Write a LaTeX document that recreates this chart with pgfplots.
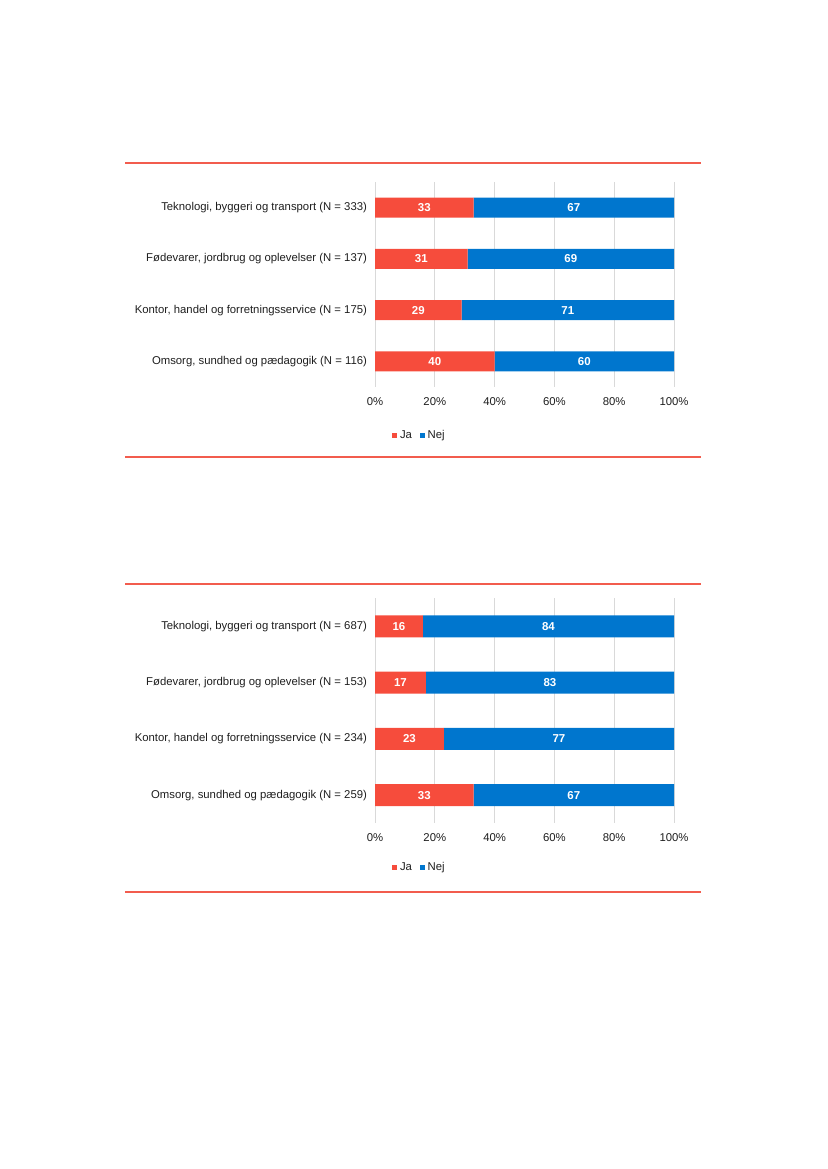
\documentclass[border=0pt]{standalone}
\usepackage{pgfplots}
\pgfplotsset{compat=1.18}
\usepackage{pgfplotstable}
\usepackage{fontspec}
\setmainfont{Liberation Sans}

\definecolor{jared}{RGB}{246,76,60}
\definecolor{nejblue}{RGB}{0,118,206}
\definecolor{rulered}{RGB}{242,92,78}
\definecolor{gridgray}{RGB}{217,217,217}
\definecolor{txt}{RGB}{30,30,30}

% andel i procent, Ja / Nej
\pgfplotstableread{
idx ja nej
0 33 67
1 31 69
2 29 71
3 40 60
}\tabA
\pgfplotstableread{
idx ja nej
0 16 84
1 17 83
2 23 77
3 33 67
}\tabB

\pgfplotsset{
  barchart/.style={
    xbar stacked,
    scale only axis,
    x=2.2425pt,
    xmin=0, xmax=100,
    ymin=-0.5, ymax=3.5,
    y dir=reverse,
    xtick={0,20,...,100},
    xticklabel={\pgfmathprintnumber{\tick}\%},
    ytick={0,1,2,3},
    axis line style={draw=none},
    major tick style={draw=none},
    xmajorgrids,
    grid style={gridgray, line width=0.75pt},
    tick label style={font=\fontsize{8.5}{10}\selectfont, text=txt},
    yticklabel style={xshift=-2.5pt},
    xticklabel style={yshift=-4.5pt},
    /pgf/number format/assume math mode=true,
    point meta=explicit,
    nodes near coords={\pgfmathprintnumber{\pgfplotspointmeta}},
    nodes near coords style={font=\bfseries\fontsize{8.6}{10}\selectfont, text=white,
      anchor=center},
    legend columns=2,
    legend style={draw=none, fill=none, font=\fontsize{8.5}{10}\selectfont, text=txt,
      anchor=center, /tikz/every even column/.append style={column sep=4pt}},
    legend image code/.code={\fill[##1] (0pt,-1.9pt) rectangle (3.8pt,1.9pt);},
  },
}

\begin{document}
\begin{tikzpicture}
\path[use as bounding box] (0pt,0pt) rectangle (620.25pt,-876.75pt);

\draw[rulered, line width=1.5pt] (93.75pt,-122.5pt) -- (525.75pt,-122.5pt);
\draw[rulered, line width=1.5pt] (93.75pt,-342.5pt) -- (525.75pt,-342.5pt);
\draw[rulered, line width=1.5pt] (93.75pt,-438pt) -- (525.75pt,-438pt);
\draw[rulered, line width=1.5pt] (93.75pt,-669pt) -- (525.75pt,-669pt);

\begin{axis}[barchart,
  at={(281.25pt,-136.5pt)}, anchor=north west,
  y=38.4375pt, bar width=15pt,
  yticklabels={{Teknologi, byggeri og transport (N = 333)},
    {Fødevarer, jordbrug og oplevelser (N = 137)},
    {Kontor, handel og forretningsservice (N = 175)},
    {Omsorg, sundhed og pædagogik (N = 116)}},
  legend style={at={(0.15,-0.235)}},
]
\addplot[fill=jared, draw=none] table[x=ja, y=idx, meta=ja] {\tabA};
\addplot[fill=nejblue, draw=none] table[x=nej, y=idx, meta=nej] {\tabA};
\legend{Ja, Nej}
\end{axis}

\begin{axis}[barchart,
  at={(281.25pt,-448.7pt)}, anchor=north west,
  y=42.1875pt, bar width=16.5pt,
  yticklabels={{Teknologi, byggeri og transport (N = 687)},
    {Fødevarer, jordbrug og oplevelser (N = 153)},
    {Kontor, handel og forretningsservice (N = 234)},
    {Omsorg, sundhed og pædagogik (N = 259)}},
  legend style={at={(0.15,-0.195)}},
]
\addplot[fill=jared, draw=none] table[x=ja, y=idx, meta=ja] {\tabB};
\addplot[fill=nejblue, draw=none] table[x=nej, y=idx, meta=nej] {\tabB};
\legend{Ja, Nej}
\end{axis}
\end{tikzpicture}
\end{document}
